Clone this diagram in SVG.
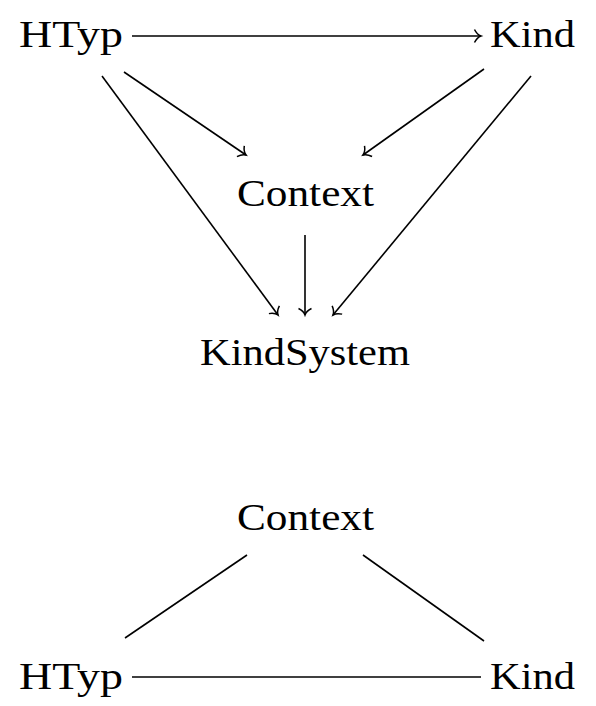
<svg xmlns="http://www.w3.org/2000/svg" width="596" height="706" viewBox="0 0 596 706">
<style>
text{font-size:38px;fill:#000}
.c line{stroke:#000;stroke-width:1.6;fill:none}
</style>
<defs>
<marker id="ah" markerUnits="userSpaceOnUse" markerWidth="18" markerHeight="18" viewBox="-9 -9 18 18" refX="0" refY="0" orient="auto">
<path d="M-6.5,-6.5 C-4.5,-2.5 -1.8,-0.6 0,0 C-1.8,0.6 -4.5,2.5 -6.5,6.5" fill="none" stroke="#000" stroke-width="1.5"/>
</marker>
</defs>
<g id="n-htyp1"><text font-family="'Liberation Serif', 'DejaVu Serif', serif" x="19" y="47" textLength="104" lengthAdjust="spacingAndGlyphs">HTyp</text></g>
<g id="n-kind1"><text font-family="'Liberation Serif', 'DejaVu Serif', serif" x="490" y="47" textLength="85" lengthAdjust="spacingAndGlyphs">Kind</text></g>
<g id="n-context1"><text font-family="'Liberation Serif', 'DejaVu Serif', serif" x="237" y="206" textLength="137" lengthAdjust="spacingAndGlyphs">Context</text></g>
<g id="n-kindsystem"><text font-family="'Liberation Serif', 'DejaVu Serif', serif" x="200" y="365" textLength="210" lengthAdjust="spacingAndGlyphs">KindSystem</text></g>
<g id="n-context2"><text font-family="'Liberation Serif', 'DejaVu Serif', serif" x="237" y="530" textLength="137" lengthAdjust="spacingAndGlyphs">Context</text></g>
<g id="n-htyp2"><text font-family="'Liberation Serif', 'DejaVu Serif', serif" x="19" y="689" textLength="104" lengthAdjust="spacingAndGlyphs">HTyp</text></g>
<g id="n-kind2"><text font-family="'Liberation Serif', 'DejaVu Serif', serif" x="490" y="689" textLength="85" lengthAdjust="spacingAndGlyphs">Kind</text></g>
<g id="connectors" class="c">
<line x1="132" y1="36" x2="481" y2="36" marker-end="url(#ah)"/>
<line x1="124" y1="72" x2="246" y2="155" marker-end="url(#ah)"/>
<line x1="484" y1="69" x2="363" y2="155" marker-end="url(#ah)"/>
<line x1="102" y1="76" x2="278" y2="315" marker-end="url(#ah)"/>
<line x1="531" y1="76" x2="333" y2="315" marker-end="url(#ah)"/>
<line x1="305" y1="235" x2="305" y2="315" marker-end="url(#ah)"/>
<line x1="247" y1="555" x2="125" y2="638"/>
<line x1="363" y1="555" x2="484" y2="641"/>
<line x1="132" y1="677" x2="481" y2="677"/>
</g>
</svg>
